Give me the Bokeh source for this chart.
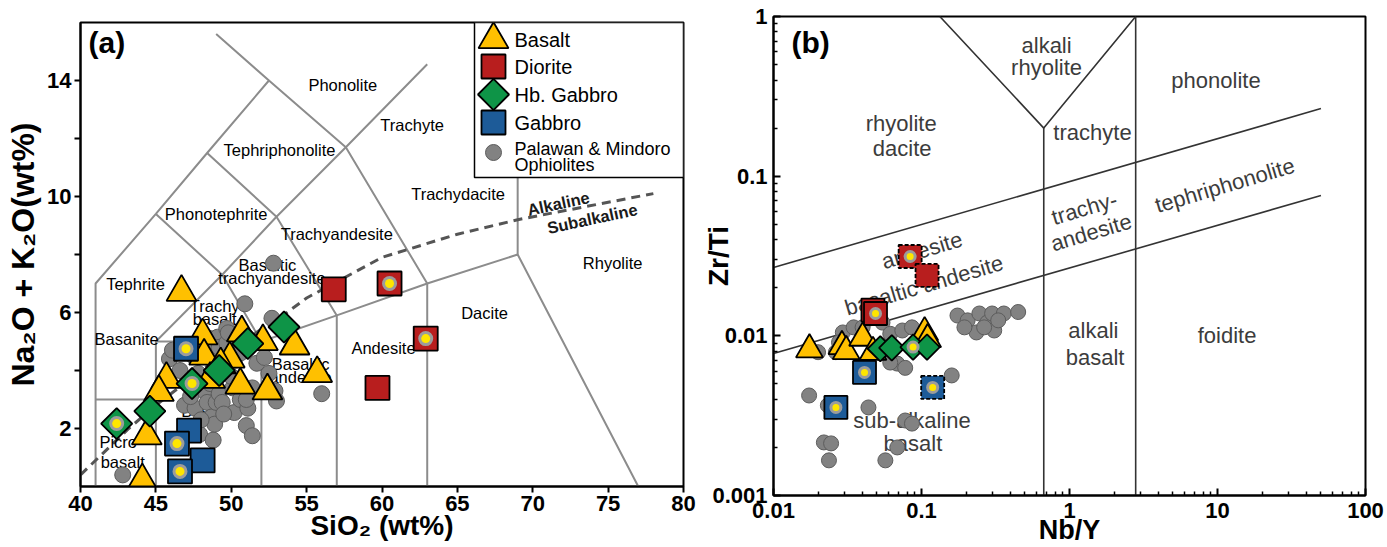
import numpy as np
from bokeh.plotting import figure
from bokeh.layouts import row
from bokeh.models import FixedTicker, Label, CustomJSTickFormatter
from bokeh.core.properties import value
from bokeh.embed import file_html
from bokeh.resources import INLINE

FONT = "Liberation Sans"

# ================= DATA: panel (a)  TAS  (SiO2 vs Na2O+K2O) =================
basalt_sio2 = [46.7, 48.1, 48.2, 49.9, 50.7, 52.1, 54.2, 55.7, 52.4, 50.6, 48.6, 45.7, 45.2, 44.4, 44.1, 49.3]
basalt_alk = [6.7, 5.2, 4.5, 4.4, 5.3, 5.0, 4.85, 3.9, 3.3, 3.5, 3.7, 3.7, 3.25, 1.75, 0.2, 4.2]

diorite_sio2 = [56.8, 60.5, 62.9, 59.7]
diorite_alk = [6.8, 7.0, 5.1, 3.4]
diorite_spot_a = [False, True, True, False]

hbg_sio2 = [42.4, 44.6, 47.4, 49.2, 51.1, 53.5]
hbg_alk = [2.17, 2.6, 3.55, 4.0, 4.93, 5.5]
hbg_spot_a = [True, False, True, False, False, False]

gabbro_sio2 = [47.0, 47.2, 46.4, 48.1, 46.6]
gabbro_alk = [4.75, 1.93, 1.48, 0.9, 0.52]
gabbro_spot_a = [True, False, True, False, True]

oph_sio2 = [42.8, 45.9, 46.1, 46.6, 46.9, 47.6, 47.9, 48.2, 48.4, 48.4, 48.6, 48.6, 48.7, 48.8, 48.9,
            48.9, 49.0, 49.1, 49.2, 49.2, 49.4, 49.7, 49.7, 49.8, 50.1, 50.2, 50.2, 50.6, 50.9, 51.0,
            51.1, 51.4, 51.4, 51.7, 52.2, 52.7, 52.8, 52.9, 53.0, 56.0, 47.3, 47.8, 50.0, 51.0, 49.5,
            48.0, 50.6, 51.5, 52.5, 47.5]
oph_alk = [0.4, 4.4, 4.7, 4.0, 2.8, 2.7, 1.8, 3.3, 2.9, 4.6, 3.55, 5.1, 2.4, 1.6, 2.15,
           4.7, 2.9, 5.15, 3.2, 4.8, 2.9, 5.45, 4.95, 5.3, 3.4, 2.55, 4.35, 3.0, 6.3, 2.1,
           2.7, 1.75, 3.4, 4.25, 4.45, 5.8, 7.7, 3.3, 2.95, 3.2, 3.1, 3.9, 3.8, 3.0, 2.5,
           2.3, 4.6, 5.0, 3.9, 4.5]

# TAS field boundaries (template)
tas_xs = [[41, 41, 45, 48.4, 52.5, 49.0],
          [41, 45],
          [45, 45, 49.4, 53, 57.6, 63],
          [45, 52, 57, 63, 69, 77],
          [52, 52, 49.4, 45],
          [57, 57, 53, 48.4],
          [63, 63, 57.6, 52.5],
          [69, 69]]
tas_ys = [[0, 7, 9.4, 11.5, 14, 15.6],
          [3, 3],
          [0, 5, 7.3, 9.3, 11.7, 14.56],
          [5, 5, 5.9, 7, 8, 0],
          [0, 5, 7.3, 9.4],
          [0, 5.9, 9.3, 11.5],
          [0, 7, 11.7, 14],
          [8, 13]]
# Alkaline / subalkaline divide
alk_div_x = [40, 43.2, 45, 48, 50, 53.7, 55, 57.5, 60, 65, 69, 78]
alk_div_y = [0.4, 2.0, 2.8, 4.0, 4.75, 6.0, 6.5, 7.2, 7.9, 8.7, 9.2, 10.1]

tas_names = ["Phonolite", "Trachyte", "Tephriphonolite", "Phonotephrite", "Trachyandesite",
             "Trachydacite", "Basaltic", "trachyandesite", "Tephrite", "Trachy", "basalt",
             "Basanite", "Basaltic", "andesite", "Basalt", "Picro", "basalt", "Andesite",
             "Dacite", "Rhyolite"]
tas_name_x = [57.4, 62.0, 53.2, 49.0, 57.0, 65.05, 52.4, 52.7, 43.65, 48.9, 48.9,
              43.06, 54.6, 54.6, 48.2, 42.5, 42.8, 60.1, 66.8, 75.3]
tas_name_y = [13.83, 12.48, 11.62, 9.41, 8.72, 10.1, 7.65, 7.2, 6.97, 6.24, 5.76,
              5.07, 4.24, 3.76, 2.62, 1.52, 0.83, 4.79, 5.97, 7.69]
series_names = ["Alkaline", "Subalkaline"]
series_name_x = [71.7, 73.95]
series_name_y = [9.76, 9.24]

# ================= DATA: panel (b)  Zr/Ti vs Nb/Y =================
basalt_nby = [0.0175, 0.029, 0.031, 0.040, 0.047, 0.105, 0.11]
basalt_zrti = [0.0082, 0.0086, 0.0080, 0.0097, 0.0079, 0.0105, 0.0095]

diorite_nby = [0.047, 0.0489, 0.0838, 0.109]
diorite_zrti = [0.0145, 0.0138, 0.0314, 0.0239]
diorite_spot_b = [False, True, True, False]
diorite_dash_b = [False, False, True, True]

hbg_nby = [0.0527, 0.063, 0.0877, 0.109]
hbg_zrti = [0.0083, 0.0084, 0.0085, 0.0085]
hbg_spot_b = [False, False, True, False]

gabbro_nby = [0.0412, 0.0264, 0.119]
gabbro_zrti = [0.0059, 0.00356, 0.00475]
gabbro_spot_b = [True, True, True]
gabbro_dash_b = [False, False, True]

oph_nby = [0.0174, 0.0233, 0.0438, 0.0776, 0.0862, 0.0686, 0.057, 0.0219, 0.0245, 0.0237,
           0.16, 0.020, 0.0294, 0.0348, 0.040, 0.0545, 0.0615, 0.0742, 0.0862, 0.10,
           0.0686, 0.0776, 0.0615, 0.0264, 0.0277, 0.175, 0.205, 0.235, 0.246, 0.278,
           0.30, 0.31, 0.36, 0.45, 0.265, 0.195, 0.05, 0.33]
oph_zrti = [0.00423, 0.00367, 0.00356, 0.00295, 0.00282, 0.0020, 0.00166, 0.00215, 0.00212, 0.00166,
            0.00565, 0.0079, 0.0105, 0.0113, 0.0113, 0.0121, 0.0103, 0.0108, 0.0113, 0.0098,
            0.0067, 0.0063, 0.0068, 0.0079, 0.0091, 0.0134, 0.0125, 0.0105, 0.0138, 0.0121,
            0.0138, 0.0108, 0.0138, 0.0141, 0.0113, 0.0113, 0.0135, 0.0125]

# Pearce (1996) field boundaries (template)
pearce_xs = [[0.01, 50], [0.01, 50], [0.67, 0.67], [2.8, 2.8], [0.133, 0.67, 2.8]]
pearce_ys = [[0.0268, 0.265], [0.00776, 0.0757], [0.001, 0.2], [0.001, 1], [1, 0.2, 1]]

pearce_names = ["rhyolite", "dacite", "alkali", "rhyolite", "phonolite", "trachyte",
                "tephriphonolite", "trachy-", "andesite", "andesite", "basaltic andesite",
                "sub-alkaline", "basalt", "alkali", "basalt", "foidite"]
pearce_name_x = [0.0729, 0.074, 0.70, 0.70, 9.77, 1.43, 11.2, 1.26, 1.40, 0.1007, 0.104,
                 0.0863, 0.0875, 1.45, 1.49, 11.6]
pearce_name_y = [0.214, 0.149, 0.658, 0.48, 0.398, 0.188, 0.0875, 0.0628, 0.0444, 0.0343, 0.0207,
                 0.00295, 0.00212, 0.0108, 0.00733, 0.01006]
pearce_name_rot = [0, 0, 0, 0, 0, 0, 16.5, 16.5, 16.5, 16.5, 16.5, 0, 0, 0, 0, 0]

legend_labels = ["Basalt", "Diorite", "Hb. Gabbro", "Gabbro", "Palawan & Mindoro", "Ophiolites"]

# ================= STYLES =================
YEL = "#FFC000"
RED = "#B81E1E"
GRN = "#0E9447"
BLU = "#1D5B98"
GRY = "#828282"
GRY_LINE = "#5c5c5c"
SPOT_RING = "#9c9c9c"
SPOT_CORE = "#FFE600"


def style_axes(p, size):
    for ax in p.axis:
        ax.axis_line_width = 2
        ax.axis_line_color = "black"
        ax.major_tick_line_width = 2
        ax.major_tick_line_color = "black"
        ax.major_label_text_font = FONT
        ax.major_label_text_font_style = "bold"
        ax.major_label_text_font_size = size
        ax.major_label_text_color = "black"
        ax.axis_label_text_font = FONT
        ax.axis_label_text_font_style = "bold"
        ax.axis_label_text_color = "black"


def sel(xs, ys, flags):
    return [x for x, f in zip(xs, flags) if f], [y for y, f in zip(ys, flags) if f]


# ================= PANEL (a) =================
XA, YA = (40, 80), (0, 16)
FW_A, FH_A = 603, 464
pa = figure(width=700, height=547, x_range=XA, y_range=YA, output_backend="svg",
            toolbar_location=None, min_border_left=80, min_border_right=17,
            min_border_top=22, min_border_bottom=61)
pa.frame_align = False
pa.grid.visible = False
pa.outline_line_color = "black"
pa.outline_line_width = 2
pa.outline_line_alpha = 1
style_axes(pa, "22px")
pa.xaxis.ticker = FixedTicker(ticks=list(range(40, 81, 5)))
pa.yaxis.ticker = FixedTicker(ticks=[2, 4, 6, 8, 10, 12, 14])
pa.yaxis.major_label_overrides = {4: "", 8: "", 12: ""}
for ax in pa.axis:
    ax.major_tick_out = 6
    ax.major_tick_in = 0
    ax.minor_tick_line_color = None
pa.xaxis.major_label_standoff = 3
pa.yaxis.major_label_standoff = 3
pa.xaxis.axis_label = "SiO₂ (wt%)"
pa.xaxis.axis_label_text_font_size = "28px"
pa.xaxis.axis_label_standoff = -4
pa.yaxis.axis_label = "Na₂O + K₂O(wt%)"
pa.yaxis.axis_label_text_font_size = "32px"
pa.yaxis.axis_label_standoff = 3

pa.multi_line(xs=tas_xs, ys=tas_ys, line_color="#8c8c8c", line_width=2)
pa.line(alk_div_x, alk_div_y, line_color="#555555", line_width=3, line_dash="9 6")

pa.text(x=tas_name_x, y=tas_name_y, text=tas_names, text_font=value(FONT), text_font_size="16.5px",
        text_align="center", text_baseline="middle", text_color="black")
pa.text(x=series_name_x, y=series_name_y, text=series_names, angle=np.deg2rad(12),
        text_font=value(FONT), text_font_style="bold", text_font_size="16.5px",
        text_align="center", text_baseline="middle", text_color="#1a1a1a")

pa.scatter(oph_sio2, oph_alk, marker="circle", size=16, fill_color=GRY, line_color=GRY_LINE, line_width=1)
pa.scatter(basalt_sio2, basalt_alk, marker="triangle", size=30, fill_color=YEL, line_color="black", line_width=1.8)
pa.scatter(hbg_sio2, hbg_alk, marker="square", angle=np.pi / 4, size=22, fill_color=GRN, line_color="black", line_width=1.8)
pa.scatter(gabbro_sio2, gabbro_alk, marker="square", size=24, fill_color=BLU, line_color="black", line_width=1.8)
pa.scatter(diorite_sio2, diorite_alk, marker="square", size=24, fill_color=RED, line_color="black", line_width=1.8)
for xs, ys, fl in [(hbg_sio2, hbg_alk, hbg_spot_a), (gabbro_sio2, gabbro_alk, gabbro_spot_a),
                   (diorite_sio2, diorite_alk, diorite_spot_a)]:
    sx, sy = sel(xs, ys, fl)
    pa.scatter(sx, sy, marker="circle", size=15, fill_color=SPOT_RING, line_color=None)
    pa.scatter(sx, sy, marker="circle", size=9, fill_color=SPOT_CORE, line_color=None)


# manual legend box (positions in frame pixels, converted through the ranges)
def ax_a(px):
    return XA[0] + px / FW_A * (XA[1] - XA[0])


def ay_a(py):
    return YA[1] - py / FH_A * (YA[1] - YA[0])


pa.quad(left=[ax_a(394)], right=[ax_a(603)], top=[ay_a(0)], bottom=[ay_a(155)],
        fill_color="white", line_color="black", line_width=1.5)
leg_rows = [17, 44, 72, 100]
leg_mx = ax_a(413)
pa.scatter([leg_mx], [ay_a(17)], marker="triangle", size=30, fill_color=YEL, line_color="black", line_width=1.8)
pa.scatter([leg_mx], [ay_a(44)], marker="square", size=24, fill_color=RED, line_color="black", line_width=1.8)
pa.scatter([leg_mx], [ay_a(72)], marker="square", angle=np.pi / 4, size=22, fill_color=GRN, line_color="black", line_width=1.8)
pa.scatter([leg_mx], [ay_a(100)], marker="square", size=24, fill_color=BLU, line_color="black", line_width=1.8)
pa.scatter([leg_mx], [ay_a(130)], marker="circle", size=16, fill_color=GRY, line_color=GRY_LINE, line_width=1)
pa.text(x=[ax_a(434)] * 4, y=[ay_a(r) for r in leg_rows], text=legend_labels[:4],
        text_font=value(FONT), text_font_size="20px", text_align="left", text_baseline="middle",
        text_color="black")
pa.text(x=[ax_a(434)] * 2, y=[ay_a(126), ay_a(142)], text=legend_labels[4:],
        text_font=value(FONT), text_font_size="18px", text_align="left", text_baseline="middle",
        text_color="black")

pa.add_layout(Label(x=8, y=FH_A - 20, x_units="screen", y_units="screen", text="(a)",
                    text_font=FONT, text_font_style="bold", text_font_size="30px",
                    text_color="black", text_align="left", text_baseline="middle"))

# ================= PANEL (b) =================
XB, YB = (0.01, 100), (0.001, 1)
FW_B, FH_B = 598, 479
pb = figure(width=687, height=547, x_axis_type="log", y_axis_type="log", x_range=XB, y_range=YB,
            output_backend="svg", toolbar_location=None, min_border_left=67, min_border_right=22,
            min_border_top=16, min_border_bottom=52)
pb.frame_align = False
pb.grid.visible = False
pb.outline_line_color = "black"
pb.outline_line_width = 2
pb.outline_line_alpha = 1
style_axes(pb, "22px")
pb.xaxis.ticker = FixedTicker(ticks=[0.01, 0.1, 1, 10, 100],
                              minor_ticks=[k * 10.0 ** e for e in range(-2, 2) for k in range(2, 10)])
pb.yaxis.ticker = FixedTicker(ticks=[0.001, 0.01, 0.1, 1],
                              minor_ticks=[k * 10.0 ** e for e in range(-3, 0) for k in range(2, 10)])
fmt = "return tick.toString();"
pb.xaxis.formatter = CustomJSTickFormatter(code=fmt)
pb.yaxis.formatter = CustomJSTickFormatter(code=fmt)
for ax in pb.axis:
    ax.major_tick_in = 7
    ax.major_tick_out = 0
    ax.minor_tick_in = 4
    ax.minor_tick_out = 0
    ax.minor_tick_line_color = "black"
    ax.minor_tick_line_width = 1.5
pb.xaxis.major_label_standoff = 7
pb.yaxis.major_label_standoff = 6
pb.xaxis.axis_label = "Nb/Y"
pb.xaxis.axis_label_text_font_size = "27px"
pb.xaxis.axis_label_standoff = -6
pb.yaxis.axis_label = "Zr/Ti"
pb.yaxis.axis_label_text_font_size = "28px"
pb.yaxis.axis_label_standoff = -25

pb.multi_line(xs=pearce_xs, ys=pearce_ys, line_color="#333333", line_width=1.6)
pb.text(x=pearce_name_x, y=pearce_name_y, text=pearce_names, angle=np.deg2rad(pearce_name_rot),
        text_font=value(FONT), text_font_size="22px", text_align="center", text_baseline="middle",
        text_color="#3c3c3c")

pb.scatter(oph_nby, oph_zrti, marker="circle", size=15, fill_color=GRY, line_color=GRY_LINE, line_width=1)
pb.scatter(basalt_nby, basalt_zrti, marker="triangle", size=27, fill_color=YEL, line_color="black", line_width=1.8)
pb.scatter(hbg_nby, hbg_zrti, marker="square", angle=np.pi / 4, size=18, fill_color=GRN, line_color="black", line_width=1.8)
for xs, ys, col, dash in [(gabbro_nby, gabbro_zrti, BLU, gabbro_dash_b), (diorite_nby, diorite_zrti, RED, diorite_dash_b)]:
    sx, sy = sel(xs, ys, [not d for d in dash])
    pb.scatter(sx, sy, marker="square", size=23, fill_color=col, line_color="black", line_width=1.8)
    sx, sy = sel(xs, ys, dash)
    pb.scatter(sx, sy, marker="square", size=23, fill_color=col, line_color="black", line_width=1.8,
               line_dash="4 2")
for xs, ys, fl in [(hbg_nby, hbg_zrti, hbg_spot_b), (gabbro_nby, gabbro_zrti, gabbro_spot_b),
                   (diorite_nby, diorite_zrti, diorite_spot_b)]:
    sx, sy = sel(xs, ys, fl)
    pb.scatter(sx, sy, marker="circle", size=13, fill_color=SPOT_RING, line_color=None)
    pb.scatter(sx, sy, marker="circle", size=7, fill_color=SPOT_CORE, line_color=None)

pb.add_layout(Label(x=18, y=FH_B - 26, x_units="screen", y_units="screen", text="(b)",
                    text_font=FONT, text_font_style="bold", text_font_size="30px",
                    text_color="black", text_align="left", text_baseline="middle"))

layout = row(pa, pb)
open("out.html", "w").write(file_html(layout, INLINE))
